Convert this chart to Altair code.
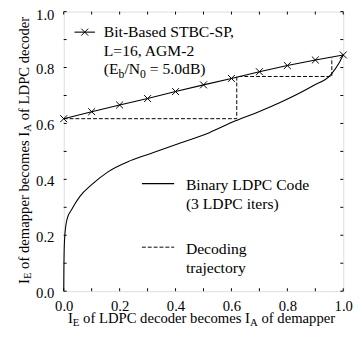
import altair as alt
import pandas as pd

# ---------------- data ----------------
tick_vals = [0.0, 0.1, 0.2, 0.3, 0.4, 0.5, 0.6, 0.7, 0.8, 0.9, 1.0]
label_vals = [0.0, 0.2, 0.4, 0.6, 0.8, 1.0]

stbc_x = [0.0, 0.1, 0.2, 0.3, 0.4, 0.5, 0.6, 0.7, 0.8, 0.9, 1.0]
stbc_y = [0.617, 0.642, 0.666, 0.689, 0.714, 0.738, 0.761, 0.785, 0.807, 0.827, 0.845]

ldpc_x = [0.0, 0.0005, 0.0015, 0.004, 0.012, 0.029, 0.058, 0.099, 0.157, 0.239,
          0.321, 0.402, 0.519, 0.600, 0.700, 0.776, 0.892, 0.955, 0.986, 1.0]
ldpc_y = [0.0, 0.07, 0.14, 0.2, 0.258, 0.293, 0.339, 0.380, 0.426, 0.467,
          0.496, 0.525, 0.566, 0.603, 0.643, 0.676, 0.735, 0.774, 0.818, 0.846]

traj_x = [0.0, 0.619, 0.619, 0.959, 0.959]
traj_y = [0.617, 0.617, 0.768, 0.768, 0.835]

legend1_lines = ["Bit-Based STBC-SP,", "L=16, AGM-2"]
legend1_eq = [("(E", 0), ("b", 1), ("/N", 0), ("0", 1), (" = 5.0dB)", 0)]
legend2_lines = ["Binary LDPC Code", "(3 LDPC iters)"]
legend3_lines = ["Decoding", "trajectory"]
xtitle = [("I", 0), ("E", 1), (" of LDPC decoder becomes I", 0), ("A", 1), (" of demapper", 0)]
ytitle = [("I", 0), ("E", 1), (" of demapper becomes I", 0), ("A", 1), (" of LDPC decoder", 0)]

# ---------------- layout ----------------
W, H = 286, 286
FONT = "Liberation Serif, Times New Roman, Times, serif"
TICK = 3

# Times / Liberation Serif advance widths (per 1000 em)
TW = {' ': 250, '(': 333, ')': 333, ',': 250, '-': 333, '.': 250, '/': 278, '=': 564,
      'A': 722, 'B': 667, 'C': 667, 'D': 722, 'E': 611, 'G': 722, 'I': 333, 'L': 611,
      'M': 889, 'N': 722, 'P': 556, 'S': 556, 'T': 611,
      'a': 444, 'b': 500, 'c': 444, 'd': 500, 'e': 444, 'f': 333, 'g': 500, 'h': 500,
      'i': 278, 'j': 278, 'k': 500, 'l': 278, 'm': 778, 'n': 500, 'o': 500, 'p': 500,
      'r': 333, 's': 389, 't': 278, 'u': 500, 'y': 500}


def tw(s, size):
    return sum(TW.get(c, 500) for c in s) * size / 1000.0


def pieces(parts, size, subsize, shift):
    out = []
    pos = 0.0
    for txt, sub in parts:
        fs = subsize if sub else size
        lead = len(txt) - len(txt.lstrip(" "))
        out.append({"t": txt.strip(" "), "off": pos + tw(" " * lead, fs),
                    "fs": fs, "dy": shift if sub else 0})
        pos += tw(txt, fs)
    return out, pos


xs = alt.Scale(domain=[0, 1], nice=False, zero=False)
ys = alt.Scale(domain=[0, 1], nice=False, zero=False)

axis_common = dict(
    values=label_vals, format=".1f", ticks=False, domain=False, grid=False,
    labelFont=FONT, labelFontSize=15, labelColor="black", title=None,
)

frame = alt.Chart(pd.DataFrame({"v": tick_vals})).mark_rule(opacity=0).encode(
    x=alt.X("v:Q", scale=xs, axis=alt.Axis(labelPadding=8, labelFlush=False, **axis_common)),
    y=alt.Y("v:Q", scale=ys, axis=alt.Axis(labelPadding=10, labelFlush=False,
                                            labelOffset={"condition": {"test": "datum.value == 1", "value": 3}, "value": 1},
                                            **axis_common)),
)

tdf = pd.DataFrame({"v": tick_vals})
tk = alt.Chart(tdf).mark_rule(color="black", strokeWidth=1)
ticks = (
    tk.encode(x=alt.X("v:Q", scale=xs), y=alt.value(H), y2=alt.value(H - TICK))
    + tk.encode(x=alt.X("v:Q", scale=xs), y=alt.value(0), y2=alt.value(TICK))
    + tk.encode(y=alt.Y("v:Q", scale=ys), x=alt.value(0), x2=alt.value(TICK))
    + tk.encode(y=alt.Y("v:Q", scale=ys), x=alt.value(W), x2=alt.value(W - TICK))
)

stbc_df = pd.DataFrame({"x": stbc_x, "y": stbc_y})
stbc_line = alt.Chart(stbc_df).mark_line(color="black", strokeWidth=1.1).encode(
    x=alt.X("x:Q", scale=xs), y=alt.Y("y:Q", scale=ys))
XSHAPE = "M-1,-1L1,1M-1,1L1,-1"
stbc_pts = alt.Chart(stbc_df).mark_point(shape=XSHAPE, filled=False, color="black",
                                         size=50, strokeWidth=1, opacity=1).encode(
    x=alt.X("x:Q", scale=xs), y=alt.Y("y:Q", scale=ys))

ldpc_df = pd.DataFrame({"x": ldpc_x, "y": ldpc_y})
ldpc_line = alt.Chart(ldpc_df).mark_line(color="black", strokeWidth=1.1,
                                         interpolate="monotone").encode(
    x=alt.X("x:Q", scale=xs), y=alt.Y("y:Q", scale=ys))

traj_df = pd.DataFrame({"x": traj_x, "y": traj_y, "i": list(range(len(traj_x)))})
traj_line = alt.Chart(traj_df).mark_line(color="black", strokeWidth=1, strokeDash=[4, 2]).encode(
    x=alt.X("x:Q", scale=xs), y=alt.Y("y:Q", scale=ys), order="i:Q")

# ---------------- legend (drawn) ----------------
TOP = 8  # page y of plot top
one = pd.DataFrame({"a": [0]})
leg_sym = (
    alt.Chart(one).mark_rule(color="black", strokeWidth=1.1).encode(
        x=alt.value(11), x2=alt.value(32), y=alt.value(29 - TOP))
    + alt.Chart(one).mark_point(shape=XSHAPE, filled=False, color="black", size=50,
                                strokeWidth=1, opacity=1).encode(x=alt.value(21.5), y=alt.value(29 - TOP))
    + alt.Chart(one).mark_rule(color="black", strokeWidth=1.1).encode(
        x=alt.value(80), x2=alt.value(113), y=alt.value(184 - TOP))
    + alt.Chart(one).mark_rule(color="black", strokeWidth=1, strokeDash=[4, 2]).encode(
        x=alt.value(80), x2=alt.value(113), y=alt.value(249 - TOP))
)

rows = []
for i, s in enumerate(legend1_lines):
    rows.append({"t": s, "x": 41, "y": 34 - TOP + 19 * i, "fs": 16})
eq, _ = pieces(legend1_eq, 16, 12, 4)
for p in eq:
    rows.append({"t": p["t"], "x": 41 + p["off"], "y": 71.5 - TOP + p["dy"], "fs": p["fs"]})
for i, s in enumerate(legend2_lines):
    rows.append({"t": s, "x": 125, "y": 191 - TOP + 19 * i, "fs": 16})
for i, s in enumerate(legend3_lines):
    rows.append({"t": s, "x": 125, "y": 256 - TOP + 19 * i, "fs": 16})
xt, xtot = pieces(xtitle, 15, 11, 3)
for p in xt:
    rows.append({"t": p["t"], "x": 141 - xtot / 2 + p["off"], "y": 327 - TOP + p["dy"], "fs": p["fs"]})
text_df = pd.DataFrame(rows)
texts = alt.Chart(text_df).mark_text(font=FONT, align="left", baseline="alphabetic",
                                     color="black").encode(
    x=alt.X("x:Q", scale=None), y=alt.Y("y:Q", scale=None),
    size=alt.Size("fs:Q", scale=None, legend=None), text="t:N")

yrows = []
yt, ytot = pieces(ytitle, 15, 11, 3)
for p in yt:
    yrows.append({"t": p["t"], "x": -36 + p["dy"], "y": 150 - TOP + ytot / 2 - p["off"], "fs": p["fs"]})
ytexts = alt.Chart(pd.DataFrame(yrows)).mark_text(font=FONT, align="left", baseline="alphabetic",
                                                  color="black", angle=270).encode(
    x=alt.X("x:Q", scale=None), y=alt.Y("y:Q", scale=None),
    size=alt.Size("fs:Q", scale=None, legend=None), text="t:N")

chart = alt.layer(
    frame, ticks, traj_line, ldpc_line, stbc_line, stbc_pts, leg_sym, texts, ytexts
).properties(
    width=W, height=H,
    autosize=alt.AutoSizeParams(type="none"),
    padding={"left": 57, "top": 0, "right": 12, "bottom": 35},
).configure_view(stroke="black", strokeWidth=1).configure(background="white")

chart.save("out.html", embed_options={"renderer": "svg", "actions": False})
